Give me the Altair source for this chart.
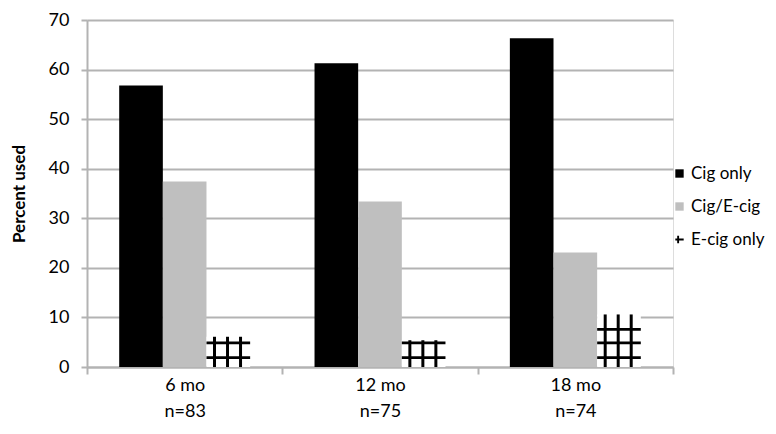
import altair as alt
import pandas as pd

categories = ["6 mo", "12 mo", "18 mo"]
sample_sizes = ["n=83", "n=75", "n=74"]
series = ["Cig only", "Cig/E-cig", "E-cig only"]
cig_only = [56.8, 61.3, 66.3]
cig_ecig = [37.4, 33.4, 23.1]
ecig_only = [6.1, 5.4, 10.6]
y_ticks = [0, 10, 20, 30, 40, 50, 60, 70]

# hatch pattern styling for the "E-cig only" bars
hatch_levels = [1.6, 4.6, 7.3, 10.1]
hatch_thick = 0.55
sub_slots = [f"s{i}" for i in range(14)]
hatch_slots = ["s9", "s10", "s11"]

FONT = "Lato"
GRID = "#b3b3b3"

cat_keys = [f"{c}|{n}" for c, n in zip(categories, sample_sizes)]

rows = []
for i, k in enumerate(cat_keys):
    for s, vals in zip(series, [cig_only, cig_ecig, ecig_only]):
        rows.append({"cat": k, "series": s, "value": vals[i]})
df = pd.DataFrame(rows)

vrows = []
hrows = []
for i, k in enumerate(cat_keys):
    for sl in hatch_slots:
        vrows.append({"cat": k, "sub": sl, "base": 0, "top": ecig_only[i]})
    for h in hatch_levels:
        if h + hatch_thick <= ecig_only[i]:
            hrows.append({"cat": k, "series": series[2], "lo": h, "hi": h + hatch_thick})
dv = pd.DataFrame(vrows)
dh = pd.DataFrame(hrows)
dleg = pd.DataFrame({"series": series})

x_enc = alt.X(
    "cat:N",
    sort=cat_keys,
    scale=alt.Scale(paddingInner=0, paddingOuter=0),
    axis=alt.Axis(
        title=None,
        labelExpr="split(datum.label, '|')",
        labelAngle=0,
        labelFont=FONT,
        labelFontSize=18,
        labelColor="black",
        labelLineHeight=26,
        labelPadding=2,
        tickBand="extent",
        tickColor=GRID,
        tickWidth=2,
        tickSize=7,
        domainColor=GRID,
        domainWidth=2,
        grid=False,
    ),
)

y_scale = alt.Scale(domain=[0, 70], nice=False)
y_axis = alt.Axis(
    values=y_ticks,
    title="Percent used",
    titleFont=FONT,
    titleFontSize=17,
    titleFontWeight="bold",
    titleColor="black",
    titlePadding=20,
    labelFont=FONT,
    labelFontSize=18,
    labelColor="black",
    labelPadding=12,
    tickColor=GRID,
    tickWidth=2,
    tickSize=6,
    domainColor=GRID,
    domainWidth=2,
    grid=True,
    gridColor=GRID,
    gridWidth=2,
)

series_offset = alt.XOffset(
    "series:N", scale=alt.Scale(domain=series, paddingInner=0, paddingOuter=0.7375)
)

bars = alt.Chart(df).mark_bar().encode(
    x=x_enc,
    xOffset=series_offset,
    y=alt.Y("value:Q", scale=y_scale, axis=y_axis),
    color=alt.when(alt.datum.series == series[0])
    .then(alt.value("#000000"))
    .when(alt.datum.series == series[1])
    .then(alt.value("#bfbfbf"))
    .otherwise(alt.value("#ffffff")),
)

vlines = alt.Chart(dv).mark_rule(color="black", strokeWidth=3).encode(
    x=alt.X("cat:N", sort=cat_keys),
    xOffset=alt.XOffset(
        "sub:N",
        scale=alt.Scale(domain=sub_slots, paddingInner=0, paddingOuter=0.51, align=0.3),
    ),
    y=alt.Y("base:Q", scale=y_scale),
    y2="top:Q",
)

hlines = alt.Chart(dh).mark_bar(color="black").encode(
    x=alt.X("cat:N", sort=cat_keys),
    xOffset=series_offset,
    y=alt.Y("lo:Q", scale=y_scale),
    y2="hi:Q",
)

ecig_symbol = "M-1,-0.22H1V0.22H-1Z M-0.55,-0.9H-0.1V0.9H-0.55Z"

leg_common = dict(
    title=None,
    orient="none",
    legendX=584,
    legendY=145,
    symbolSize=70,
    symbolStrokeWidth=0,
    labelFont=FONT,
    labelFontSize=17,
    labelColor="black",
    labelOffset=3,
    rowPadding=15,
    padding=0,
)

legend_layer = (
    alt.Chart(dleg)
    .mark_point(filled=True, opacity=1)
    .encode(
        color=alt.Color(
            "series:N",
            scale=alt.Scale(domain=series, range=["#000000", "#bfbfbf", "#000000"]),
            legend=alt.Legend(**leg_common),
        ),
        shape=alt.Shape(
            "series:N",
            scale=alt.Scale(domain=series, range=["square", "square", ecig_symbol]),
            legend=alt.Legend(**leg_common),
        ),
    )
    .transform_filter("false")
)

chart = (
    alt.layer(bars, vlines, hlines, legend_layer)
    .resolve_scale(xOffset="independent")
    .properties(width=586, height=347, padding={"left": 2, "top": 3, "right": 0, "bottom": 0})
    .configure_view(stroke=None)
    .configure(background="white")
)

chart.save("out.html", embed_options={"renderer": "svg", "actions": False})
